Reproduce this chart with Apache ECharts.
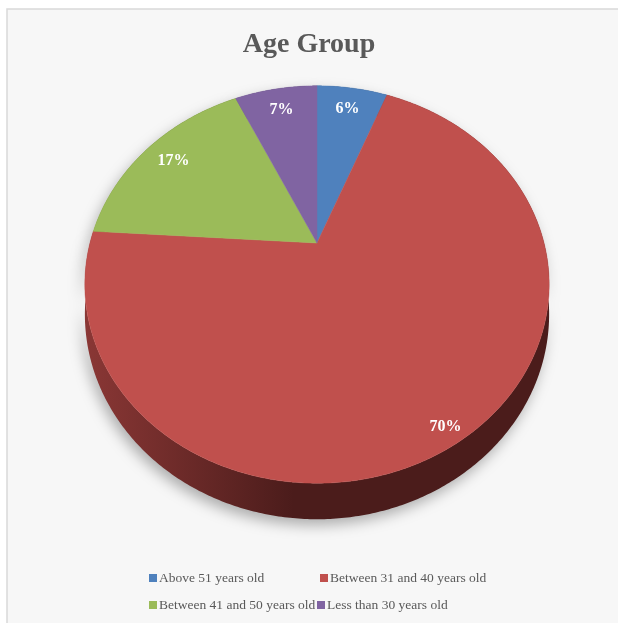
<!DOCTYPE html>
<html>
<head>
<meta charset="utf-8">
<script src="https://cdn.jsdelivr.net/npm/echarts@6/dist/echarts.min.js"></script>
<style>
html,body{margin:0;padding:0;background:#fff;}
#chart{width:618px;height:623px;}
</style>
</head>
<body>
<div id="chart"></div>
<script>
const titleText = 'Age Group';
const categories = ['Above 51 years old', 'Between 31 and 40 years old', 'Between 41 and 50 years old', 'Less than 30 years old'];
const values = [6, 70, 17, 7];
const colors = ['#4F81BD', '#C0504D', '#9BBB59', '#8064A2'];
const sideStops = [
  ['#3b6391', '#27466b'],
  ['#8a3735', '#4b1c1b'],
  ['#74903f', '#506529'],
  ['#5f4a7c', '#413254']
];

// perspective pie geometry
const CX = 317, CY = 243, A = 227, B = 190, K = 0.209, DEPTH = 28.5;
const total = values.reduce((s, v) => s + v, 0);

function proj(theta, r, drop) {
  const u = r * Math.sin(theta), w = r * Math.cos(theta);
  const s = 1 / (1 + K * w);
  return [CX + A * u * s, CY - B * w * s + (drop || 0) * s];
}

function renderSlice(params, api) {
  const i = params.seriesIndex;
  const v = api.value(0);
  let start = 0;
  for (let j = 0; j < i; j++) start += values[j];
  const a = start / total * Math.PI * 2;
  const b = (start + v) / total * Math.PI * 2;
  const n = Math.max(8, Math.ceil((b - a) / 0.01));
  const top = [], bottom = [];
  for (let t = 0; t <= n; t++) {
    const th = a + (b - a) * t / n;
    top.push(proj(th, 1, 0));
    bottom.push(proj(th, 1, DEPTH));
  }
  const sidePts = top.concat(bottom.slice().reverse());
  const facePts = [proj(0, 0, 0)].concat(top);
  const mid = (a + b) / 2;
  const front = Math.max(0, -Math.cos(mid));
  const lp = proj(mid, 0.84 + 0.06 * front, 14 * front);
  return {
    type: 'group',
    children: [
      {
        type: 'polygon',
        z2: 1,
        shape: { points: sidePts },
        style: {
          fill: new echarts.graphic.LinearGradient(0, 0, 1, 0, [
            { offset: 0, color: sideStops[i][0] },
            { offset: 0.45, color: sideStops[i][1] },
            { offset: 1, color: sideStops[i][1] }
          ]),
          shadowBlur: 14,
          shadowOffsetY: 6,
          shadowOffsetX: -3,
          shadowColor: 'rgba(0,0,0,0.3)'
        }
      },
      {
        type: 'polygon',
        z2: 10,
        shape: { points: facePts },
        style: { fill: colors[i], stroke: colors[i], lineWidth: 0.5 }
      },
      {
        type: 'text',
        z2: 20,
        style: {
          text: v + '%',
          x: lp[0],
          y: lp[1],
          fill: '#ffffff',
          font: 'bold 16px "Liberation Serif", serif',
          align: 'center',
          verticalAlign: 'middle'
        }
      }
    ]
  };
}

const chart = echarts.init(document.getElementById('chart'), null, { renderer: 'canvas' });

const legendBase = {
  orient: 'horizontal',
  selectedMode: false,
  padding: 0,
  icon: 'rect',
  itemWidth: 8,
  itemHeight: 8,
  textStyle: { fontFamily: '"Liberation Serif", serif', fontSize: 13.5, color: '#595959', padding: [0, 0, 0, -3] }
};
const legendPos = [[149, 571], [320, 571], [149, 598], [317, 598]];

chart.setOption({
  backgroundColor: '#ffffff',
  animation: false,
  title: {
    text: titleText,
    left: 'center',
    top: 26,
    textStyle: { fontFamily: '"Liberation Serif", serif', fontWeight: 'bold', fontSize: 28, color: '#595959' }
  },
  graphic: [{
    type: 'rect',
    z: -10,
    silent: true,
    shape: { x: 7, y: 9, width: 640, height: 640 },
    style: { fill: '#f7f7f7', stroke: '#d9d9d9', lineWidth: 1.5 }
  }],
  legend: categories.map((c, i) => Object.assign({}, legendBase, {
    data: [c],
    left: legendPos[i][0],
    top: legendPos[i][1]
  })),
  series: categories.map((c, i) => ({
    type: 'custom',
    name: c,
    coordinateSystem: 'none',
    itemStyle: { color: colors[i] },
    renderItem: renderSlice,
    data: [[values[i]]],
    z: 2
  }))
});
</script>
</body>
</html>
